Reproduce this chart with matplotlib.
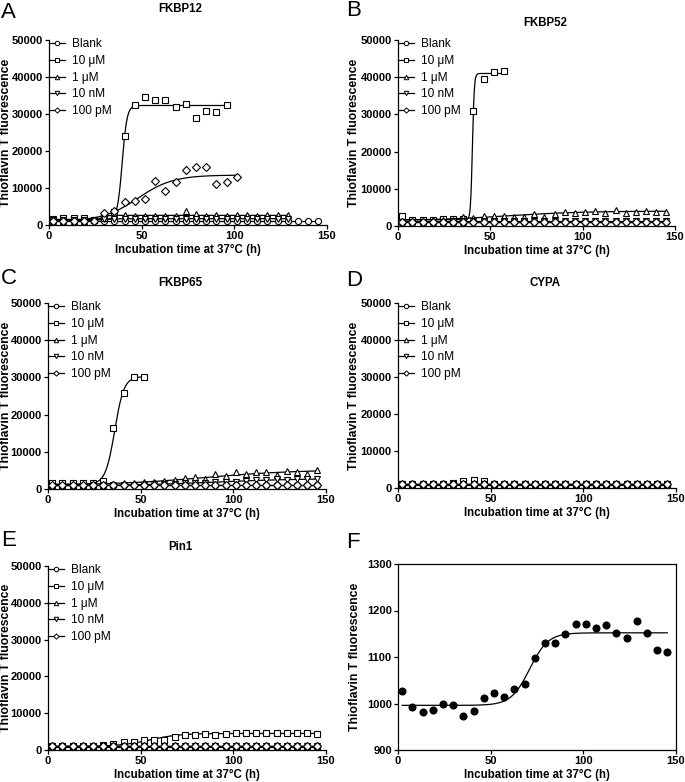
import numpy as np
import matplotlib
matplotlib.use('Agg')
import matplotlib.pyplot as plt

plt.rcParams['font.family'] = ['Liberation Sans', 'DejaVu Sans']

# sampling times (h), every ~5.5 h
TIME = [2.3, 7.8, 13.3, 18.8, 24.3, 29.8, 35.3, 40.8, 46.3, 51.8, 57.3, 62.8,
        68.3, 73.8, 79.3, 84.8, 90.3, 95.8, 101.3, 106.8, 112.3, 117.8, 123.3,
        128.8, 134.3, 139.8, 145.3]

LABELS = ['Blank', '10 \u03bcM', '1 \u03bcM', '10 nM', '100 pM']
MARKERS = ['o', 's', '^', 'v', 'D']

# ---- panel A: FKBP12 ----
A_BLANK = [1000, 1000, 1000, 1000, 1000, 1100, 1200, 1100, 1100, 1100, 1100, 1200, 1100,
           1000, 1100, 1100, 1100, 1100, 1100, 1100, 1100, 1100, 1100, 1100, 1000, 1000, 1000]
A_10UM = [1700, 1800, 1800, 1800, 1400, 2000, 3500, 24000, 32400, 34700, 33800, 33900,
          31800, 32700, 29000, 30900, 30600, 32300]
A_1UM = [1200, 1200, 1200, 1200, 1300, 2400, 2700, 2700, 2500, 2500, 2500, 2400, 2500,
         3800, 2900, 2500, 2600, 2500, 2600, 2600, 2500, 2700, 2700, 2700]
A_10NM = [1300, 1300, 1300, 1300, 1300, 1500, 1600, 1700, 1700, 1600, 1700, 1700, 1600,
          1600, 1700, 1700, 1700, 1700, 1700, 1700, 1700, 1700, 1700, 1700]
A_100PM = [1000, 1000, 1000, 1000, 1100, 3200, 3700, 6200, 6400, 7100, 12000, 9300, 11500,
           14800, 15700, 15700, 11200, 11600, 12900]
# Boltzmann fit parameters: bottom, top, t50, slope
A_FIT = [(1050, 1050, 50, 10), (1500, 32300, 39.5, 1.3), (1200, 2600, 28, 1.5),
         (1300, 1700, 30, 3), (1000, 13500, 48, 9.5)]

# ---- panel B: FKBP52 ----
B_BLANK = [900, 900, 900, 900, 900, 900, 900, 1000, 1000, 1000, 1000, 1000, 1000, 1000,
           1000, 1000, 1000, 1000, 1000, 1000, 1000, 1000, 1000, 1000, 1000, 1000, 1000]
B_10UM = [2600, 1600, 1600, 1700, 1800, 1800, 1900, 31000, 39500, 41300, 41700]
B_1UM = [1400, 1400, 1400, 1500, 1600, 1700, 2300, 2200, 2800, 2600, 2600, 2400, 2400,
         3200, 2400, 3100, 3700, 3500, 3800, 4100, 3600, 4400, 3500, 3700, 3900, 3700, 3800]
B_10NM = [1200, 1200, 1200, 1200, 1200, 1300, 1300, 1300, 1300, 1300, 1300, 1300, 1300,
          1300, 1300, 1300, 1300, 1300, 1300, 1300, 1300, 1300, 1300, 1300, 1300, 1300, 1300]
B_100PM = [1000, 1000, 1000, 1000, 1100, 1100, 1100, 1100, 1100, 1100, 1100, 1100, 1100,
           1100, 1100, 1100, 1100, 1100, 1100, 1100, 1100, 1100, 1100, 1100, 1100, 1100, 1100]
B_FIT = [(980, 980, 50, 10), (1700, 41000, 40.3, 0.5), (1500, 4000, 60, 20),
         (1250, 1250, 50, 10), (1080, 1080, 50, 10)]

# ---- panel C: FKBP65 ----
C_BLANK = [900, 900, 900, 900, 900, 900, 900, 1000, 1000, 1000, 1000, 1000, 1000, 1000,
           1000, 1000, 1000, 1000, 1000, 1000, 1000, 1000, 1000, 1000, 1000, 1000, 1000]
C_10UM = [1500, 1500, 1500, 1500, 1700, 2200, 16400, 25700, 30200, 30200]
C_1UM = [1000, 1000, 1000, 1000, 1100, 1200, 1300, 1500, 1700, 1900, 2000, 2200, 2500,
         2900, 3200, 2800, 3900, 3500, 4600, 4100, 4500, 4700, 3700, 4900, 4600, 4000, 5000]
C_10NM = [900, 900, 900, 900, 1000, 1000, 1000, 1100, 1100, 1200, 1300, 1300, 1400, 1500,
          1600, 1700, 1800, 2000, 2000, 2200, 2300, 2400, 2800, 2500, 2600, 2800, 2700]
C_100PM = [1100, 1100, 1100, 1100, 1100, 1200, 1200, 1200, 1200, 1200, 1200, 1200, 1200,
           1200, 1200, 1200, 1200, 1200, 1200, 1200, 1200, 1200, 1200, 1200, 1200, 1200, 1200]
C_FIT = [(980, 980, 50, 10), (1300, 30200, 36, 2.5), (1000, 5200, 85, 25),
         (900, 2800, 90, 22), (1180, 1180, 50, 10)]

# ---- panel D: CYPA ----
D_BLANK = [900, 900, 900, 900, 900, 900, 900, 900, 900, 900, 900, 900, 900, 900, 900,
           900, 900, 900, 900, 900, 900, 900, 900, 900, 900, 900, 900]
D_10UM = [1000, 1000, 1000, 1000, 1100, 1300, 1900, 2100, 1900, 1100, 1100, 1100, 1100,
          1100, 1100, 1100, 1100, 1100, 1100, 1100, 1100, 1100, 1100, 1100, 1100, 1100, 1100]
D_1UM = [1000, 1000, 1000, 1000, 1000, 1100, 1100, 1100, 1100, 1100, 1100, 1100, 1100,
         1100, 1100, 1100, 1100, 1100, 1100, 1100, 1100, 1100, 1100, 1100, 1100, 1100, 1100]
D_10NM = [1100, 1100, 1100, 1100, 1100, 1100, 1200, 1200, 1200, 1200, 1200, 1200, 1200,
          1200, 1200, 1200, 1200, 1200, 1200, 1200, 1200, 1200, 1200, 1200, 1200, 1200, 1200]
D_100PM = [1000, 1000, 1000, 1000, 1000, 1000, 1000, 1000, 1000, 1000, 1000, 1000, 1000,
           1000, 1000, 1000, 1000, 1000, 1000, 1000, 1000, 1000, 1000, 1000, 1000, 1000, 1000]
D_FIT = [(900, 900, 50, 10), (1100, 1100, 50, 10), (1080, 1080, 50, 10),
         (1180, 1180, 50, 10), (1000, 1000, 50, 10)]

# ---- panel E: Pin1 ----
E_BLANK = [900, 900, 900, 900, 900, 900, 900, 900, 900, 900, 900, 900, 900, 900, 900,
           900, 900, 900, 900, 900, 900, 900, 900, 900, 900, 900, 900]
E_10UM = [1000, 1000, 1000, 1000, 1100, 1300, 1600, 2100, 2300, 2600, 2700, 2800, 3400,
          4200, 4200, 4400, 4200, 4400, 4500, 4600, 4600, 4600, 4500, 4500, 4500, 4500, 4400]
E_1UM = [1000, 1000, 1000, 1000, 1000, 1000, 1000, 1000, 1000, 1000, 1000, 1000, 1000,
         1000, 1000, 1000, 1000, 1000, 1000, 1000, 1000, 1000, 1000, 1000, 1000, 1000, 1000]
E_10NM = [1100, 1100, 1100, 1100, 1100, 1100, 1100, 1100, 1100, 1100, 1100, 1100, 1100,
          1100, 1100, 1100, 1100, 1100, 1100, 1100, 1100, 1100, 1100, 1100, 1100, 1100, 1100]
E_100PM = [1000, 1000, 1000, 1000, 1000, 1000, 1000, 1000, 1000, 1000, 1000, 1000, 1000,
           1000, 1000, 1000, 1000, 1000, 1000, 1000, 1000, 1000, 1000, 1000, 1000, 1000, 1000]
E_FIT = [(900, 900, 50, 10), (1000, 4500, 55, 8), (1000, 1000, 50, 10),
         (1100, 1100, 50, 10), (1000, 1000, 50, 10)]

# ---- panel F: Pin1 10 uM, zoomed ----
F_VALUES = [1027, 992, 981, 986, 999, 996, 974, 984, 1012, 1023, 1015, 1032, 1043, 1097,
            1130, 1131, 1149, 1171, 1170, 1163, 1168, 1152, 1140, 1178, 1151, 1116, 1110]
F_FIT = (996, 1152, 71, 5)

PANELS = [
    ('A', 'FKBP12', [A_BLANK, A_10UM, A_1UM, A_10NM, A_100PM], A_FIT),
    ('B', 'FKBP52', [B_BLANK, B_10UM, B_1UM, B_10NM, B_100PM], B_FIT),
    ('C', 'FKBP65', [C_BLANK, C_10UM, C_1UM, C_10NM, C_100PM], C_FIT),
    ('D', 'CYPA', [D_BLANK, D_10UM, D_1UM, D_10NM, D_100PM], D_FIT),
    ('E', 'Pin1', [E_BLANK, E_10UM, E_1UM, E_10NM, E_100PM], E_FIT),
]

W, H = 685, 782
# axes boxes in pixels: left, top, right, bottom
BOXES = [(49, 40, 327, 225), (398, 40, 675, 226), (48, 303, 326, 489),
         (398, 303, 676, 488), (48, 566, 326, 750), (398, 564, 676, 750)]
TITLE_POS = [(180, 9), (545, 23), (180, 283), (545, 283), (180, 547)]
LETTER_POS = [(1, 2), (346, 0), (1, 268), (346, 270), (1, 530), (346, 532)]
YLABEL_X = [6, 354, 6, 354, 6, 355]


def boltzmann(t, bottom, top, t50, slope):
    return bottom + (top - bottom) / (1.0 + np.exp((t50 - t) / slope))


def make_axes(fig, box):
    l, t, r, b = box
    return fig.add_axes([l / W, 1 - b / H, (r - l) / W, (b - t) / H])


def style_axes(fig, ax, idx, full_box=False):
    for side in ['left', 'bottom', 'top', 'right']:
        ax.spines[side].set_linewidth(0.9)
    if not full_box:
        ax.spines['top'].set_visible(False)
        ax.spines['right'].set_visible(False)
    ax.tick_params(direction='out', length=3, width=0.9, labelsize=8, pad=1.5)
    for lab in ax.get_xticklabels() + ax.get_yticklabels():
        lab.set_fontweight('bold')
    ax.set_xlabel('Incubation time at 37\u00b0C (h)', fontsize=8.3, fontweight='bold', labelpad=2)
    l, t, r, b = BOXES[idx]
    fig.text(YLABEL_X[idx] / W, 1 - (t + b) / 2 / H, 'Thioflavin T fluorescence',
             rotation=90, ha='center', va='center', fontsize=8.8, fontweight='bold')


fig = plt.figure(figsize=(W / 100, H / 100), dpi=100)

for i, (letter, title, series, fits) in enumerate(PANELS):
    ax = make_axes(fig, BOXES[i])
    handles = []
    for vals, fit, mk, lab in zip(series, fits, MARKERS, LABELS):
        t = np.array(TIME[:len(vals)])
        tt = np.linspace(t[0], t[-1], 300)
        ax.plot(tt, boltzmann(tt, *fit), color='black', lw=0.9, clip_on=False, zorder=2)
        ms = 4.4 if mk != 'D' else 3.9
        ax.plot(t, vals, linestyle='none', marker=mk, markersize=ms, mfc='white',
                mec='black', mew=0.8, clip_on=False, zorder=3)
        h, = ax.plot([], [], color='black', lw=0.9, marker=mk, markersize=ms - 1.2,
                     mfc='white', mec='black', mew=0.7)
        handles.append(h)
    ax.set_xlim(0, 150)
    ax.set_ylim(0, 50000)
    ax.set_xticks([0, 50, 100, 150])
    ax.set_yticks([0, 10000, 20000, 30000, 40000, 50000])
    style_axes(fig, ax, i)
    ax.legend(handles, LABELS, loc='upper left', bbox_to_anchor=(0.0, 1.01),
              frameon=False, fontsize=8.6, handlelength=1.3, handletextpad=0.6,
              labelspacing=0.4, borderaxespad=0.0, borderpad=0.0)
    fig.text(TITLE_POS[i][0] / W, 1 - TITLE_POS[i][1] / H, title, ha='center', va='center',
             fontsize=8.3, fontweight='bold')

# panel F
ax = make_axes(fig, BOXES[5])
t = np.array(TIME)
tt = np.linspace(t[0], t[-1], 300)
ax.plot(tt, boltzmann(tt, *F_FIT), color='black', lw=0.9, zorder=2)
ax.plot(t, F_VALUES, linestyle='none', marker='o', markersize=4.8, color='black', zorder=3,
        clip_on=False)
ax.set_xlim(0, 150)
ax.set_ylim(900, 1300)
ax.set_xticks([0, 50, 100, 150])
ax.set_yticks([900, 1000, 1100, 1200, 1300])
style_axes(fig, ax, 5, full_box=True)

for i, letter in enumerate('ABCDEF'):
    fig.text(LETTER_POS[i][0] / W, 1 - LETTER_POS[i][1] / H, letter, ha='left', va='top',
             fontsize=16)

fig.savefig('out.png', dpi=100)
